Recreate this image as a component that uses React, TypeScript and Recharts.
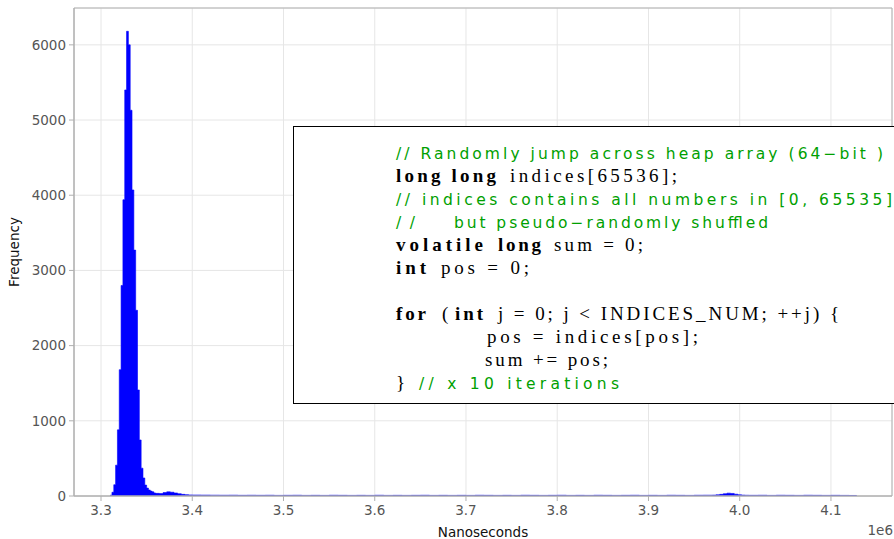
import React from "react";
import {
  AreaChart,
  Area,
  XAxis,
  YAxis,
  CartesianGrid,
  ReferenceArea,
} from "recharts";

// histogram bins: start of each bin (ns) and its count
const binStart = [
  // narrow bins around the main peak
  3310000, 3312000, 3314000, 3316000, 3318000, 3320000, 3322000, 3324000, 3326000, 3328000,
  3330000, 3332000, 3334000, 3336000, 3338000, 3340000, 3342000, 3344000, 3346000, 3348000,
  3350000, 3352000, 3354000, 3356000, 3358000,
  // tail + small bump
  3360000, 3364000, 3368000, 3372000, 3376000, 3380000, 3384000, 3388000, 3392000, 3396000,
  // long flat tail
  3400000, 3410000, 3420000, 3430000, 3440000, 3450000, 3460000, 3470000, 3480000, 3490000,
  3500000, 3510000, 3520000, 3530000, 3540000, 3550000, 3560000, 3570000, 3580000, 3590000,
  3600000, 3610000, 3620000, 3630000, 3640000, 3650000, 3660000, 3670000, 3680000, 3690000,
  3700000, 3710000, 3720000, 3730000, 3740000, 3750000, 3760000, 3770000, 3780000, 3790000,
  3800000, 3810000, 3820000, 3830000, 3840000, 3850000, 3860000, 3870000, 3880000, 3890000,
  3900000, 3910000, 3920000, 3930000, 3940000, 3950000, 3960000,
  // second bump near 4.0e6
  3970000, 3974000, 3978000, 3982000, 3986000, 3990000, 3994000, 3998000, 4002000, 4006000,
  4010000, 4020000, 4030000, 4040000, 4050000, 4060000, 4070000, 4080000, 4090000, 4100000,
  4110000, 4120000,
];
const binEnd = 4128000;

const binCount = [
  10, 50, 150, 410, 880, 1680, 2800, 3940, 5400, 6180,
  6000, 5130, 4070, 3270, 2470, 1410, 745, 370, 240, 145,
  105, 80, 65, 55, 40,
  35, 32, 45, 55, 50, 40, 30, 22, 18, 14,
  13, 12, 11, 10, 11, 9, 10, 9, 10, 8,
  9, 10, 8, 9, 8, 10, 9, 8, 9, 8,
  10, 8, 9, 8, 9, 10, 8, 9, 8, 9,
  8, 10, 9, 8, 9, 8, 10, 9, 8, 9,
  10, 8, 9, 8, 10, 9, 8, 9, 10, 8,
  9, 8, 10, 9, 8, 10, 11,
  12, 16, 22, 30, 38, 34, 24, 16, 12, 10,
  9, 10, 8, 10, 9, 8, 10, 9, 8, 9,
  8, 7,
];

const xTicks = [3300000, 3400000, 3500000, 3600000, 3700000, 3800000, 3900000, 4000000, 4100000];
const yTicks = [0, 1000, 2000, 3000, 4000, 5000, 6000];
const xDomain = [3270400, 4166900];
const yDomain = [0, 6490];

const data = [
  ...binStart.map((x, i) => ({ x, count: binCount[i] })),
  { x: binEnd, count: 0 },
];

const GREEN = "#00a000";
const serif = "'Liberation Serif', 'Times New Roman', serif";
const sans = "'DejaVu Sans', sans-serif";

// one piece of the code listing; textLength pins it to the measured width
type Seg = { t: string; x0: number; x1: number; kind: "kw" | "id" | "cm" };
const codeLines: { y: number; segs: Seg[] }[] = [
  { y: 153, segs: [{ t: "// Randomly jump across heap array (64\u2212bit )", x0: 396, x1: 883, kind: "cm" }] },
  {
    y: 176,
    segs: [
      { t: "long long", x0: 396, x1: 496, kind: "kw" },
      { t: "indices[65536];", x0: 510, x1: 677, kind: "id" },
    ],
  },
  { y: 199, segs: [{ t: "// indices contains all numbers in [0, 65535]", x0: 396, x1: 892, kind: "cm" }] },
  {
    y: 222,
    segs: [
      { t: "//", x0: 396, x1: 415, kind: "cm" },
      { t: "but pseudo\u2212randomly shuffled", x0: 454, x1: 768, kind: "cm" },
    ],
  },
  {
    y: 245,
    segs: [
      { t: "volatile", x0: 396, x1: 483, kind: "kw" },
      { t: "long", x0: 498, x1: 541, kind: "kw" },
      { t: "sum = 0;", x0: 554, x1: 643, kind: "id" },
    ],
  },
  {
    y: 268,
    segs: [
      { t: "int", x0: 396, x1: 426, kind: "kw" },
      { t: "pos = 0;", x0: 441, x1: 529, kind: "id" },
    ],
  },
  {
    y: 314,
    segs: [
      { t: "for", x0: 396, x1: 426, kind: "kw" },
      { t: "(", x0: 442, x1: 449, kind: "id" },
      { t: "int", x0: 455, x1: 483, kind: "kw" },
      { t: "j = 0;  j < INDICES_NUM;  ++j) {", x0: 498, x1: 839, kind: "id" },
    ],
  },
  { y: 337, segs: [{ t: "pos = indices[pos];", x0: 487, x1: 698, kind: "id" }] },
  { y: 360, segs: [{ t: "sum += pos;", x0: 485, x1: 608, kind: "id" }] },
  {
    y: 383,
    segs: [
      { t: "}", x0: 396, x1: 404, kind: "id" },
      { t: "// x 10 iterations", x0: 419, x1: 619, kind: "cm" },
    ],
  },
];

function segStyle(kind: Seg["kind"]) {
  if (kind === "cm") return { fontFamily: sans, fontSize: 15.5, fill: GREEN };
  if (kind === "kw") return { fontFamily: serif, fontSize: 19, fontWeight: 700, fill: "#000" };
  return { fontFamily: serif, fontSize: 19, fill: "#000" };
}

export default function App() {
  const tickStyle = { fill: "#555", fontSize: 13.5, fontFamily: sans };
  return (
    <div style={{ position: "absolute", left: 0, top: 0, width: 894, height: 539, overflow: "hidden", background: "#fff" }}>
      <AreaChart width={894} height={539} data={data} margin={{ top: 8, right: 2, left: 0, bottom: 0 }}>
        <CartesianGrid stroke="#e6e6e6" strokeWidth={1} />
        <XAxis
          dataKey="x"
          type="number"
          domain={xDomain}
          ticks={xTicks}
          allowDataOverflow
          height={43}
          tickFormatter={(v) => (v / 1e6).toFixed(1)}
          tick={tickStyle}
          tickSize={5}
          tickMargin={4}
          stroke="#b0b0b0"
          label={{ value: "Nanoseconds", position: "insideBottom", offset: 2, fill: "#111", fontSize: 13.5, fontFamily: sans }}
        />
        <YAxis
          type="number"
          domain={yDomain}
          ticks={yTicks}
          allowDataOverflow
          width={74}
          tick={tickStyle}
          tickSize={5}
          tickMargin={3}
          stroke="#b0b0b0"
          label={{
            value: "Frequency",
            angle: -90,
            position: "insideLeft",
            offset: 14,
            fill: "#111",
            fontSize: 13.5,
            fontFamily: sans,
            style: { textAnchor: "middle" },
          }}
        />
        <Area
          type="stepAfter"
          dataKey="count"
          stroke="#0000ff"
          strokeWidth={0.6}
          fill="#0000ff"
          fillOpacity={1}
          isAnimationActive={false}
          dot={false}
          activeDot={false}
        />
        <ReferenceArea x1={xDomain[0]} x2={xDomain[1]} y1={yDomain[0]} y2={yDomain[1]} fill="none" stroke="#b0b0b0" strokeWidth={1} ifOverflow="visible" />
      </AreaChart>
      <svg width={894} height={539} style={{ position: "absolute", left: 0, top: 0, pointerEvents: "none" }}>
        <rect x={293.5} y={126.5} width={640} height={277} fill="#fff" stroke="#000" strokeWidth={1} />
        {codeLines.map((line, i) =>
          line.segs.map((s, j) => (
            <text
              key={`${i}-${j}`}
              x={s.x0}
              y={line.y + 6}
              textLength={s.x1 - s.x0}
              lengthAdjust="spacing"
              {...segStyle(s.kind)}
            >
              {s.t}
            </text>
          ))
        )}
        <text x={893} y={535} textAnchor="end" fontFamily={sans} fontSize={13.5} fill="#555">
          1e6
        </text>
      </svg>
    </div>
  );
}
